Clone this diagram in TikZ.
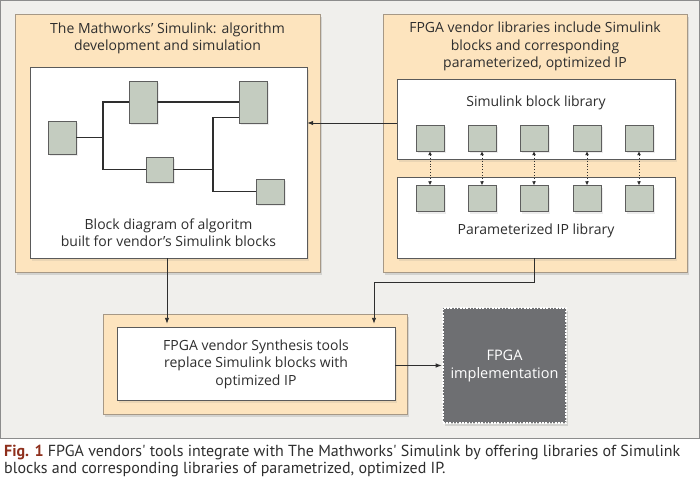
\documentclass[tikz,border=0pt]{standalone}
\usepackage{fontspec}
\setmainfont{Open Sans}
\newfontfamily\capfont{PT Sans}
\usepackage{xcolor}
\usetikzlibrary{positioning, shapes, arrows.meta, shadows}

\definecolor{panelgray}{HTML}{F0EFEC}
\definecolor{panelline}{HTML}{8C8C8C}
\definecolor{peach}{HTML}{FDE4BE}
\definecolor{peachline}{HTML}{A69886}
\definecolor{boxline}{HTML}{5A5A5A}
\definecolor{blkgreen}{HTML}{C4CCC0}
\definecolor{blkline}{HTML}{5E5E5E}
\definecolor{chipgray}{HTML}{6E6F72}
\definecolor{inkgray}{HTML}{2E2E2E}
\definecolor{figred}{HTML}{8E2F1C}

\begin{document}
\begin{tikzpicture}[
    x=1pt, y=-1pt,
    group/.style={rectangle, draw=peachline, fill=peach, inner sep=0pt,
        drop shadow={opacity=0.25, shadow xshift=2pt, shadow yshift=-3pt}},
    inbox/.style={rectangle, draw=boxline, fill=white, inner sep=0pt,
        drop shadow={opacity=0.15, shadow xshift=2pt, shadow yshift=-3pt}},
    blk/.style={rectangle, draw=blkline, fill=blkgreen, inner sep=0pt,
        drop shadow={opacity=0.15, shadow xshift=2pt, shadow yshift=-2pt}},
    libblk/.style={blk, minimum width=28pt, minimum height=26pt},
    label/.style={align=center, text=inkgray, font=\fontsize{14}{17.5}\selectfont},
    chip/.style={rectangle, fill=chipgray, draw=white, line width=2.6pt,
        dash pattern=on 1.6pt off 1.6pt, inner sep=0pt, text=white, align=center,
        font=\fontsize{14.5}{18}\selectfont,
        drop shadow={opacity=0.25, shadow xshift=2pt, shadow yshift=-3pt}},
    wire/.style={draw=inkgray, line width=1.4pt},
    link/.style={draw=inkgray, line width=0.9pt, -{Latex[length=6pt,width=4.5pt]}},
    pair/.style={draw=inkgray, line width=0.9pt, dotted,
        {Latex[length=4pt,width=4pt]}-{Latex[length=4pt,width=4pt]}}
]
\useasboundingbox (0,0) rectangle (700,484);

% Background panel
\draw[panelline, fill=panelgray, line width=1pt] (0.5,0.5) rectangle (699,438);

% Simulink group
\node[group, minimum width=305pt, minimum height=258pt] (simgrp) at (167.5,143) {};
\node[label] (simtitle) at (167.5,38.5) {The Mathworks' Simulink: algorithm\\ development and simulation};
\node[inbox, minimum width=277pt, minimum height=191pt] (simin) at (168.5,162.5) {};
\node[label] (simtext) at (168.5,232.5) {Block diagram of algoritm\\ built for vendor's Simulink blocks};

% Algorithm blocks
\node[blk, minimum width=28pt, minimum height=33pt] (b1) at (62,137.5) {};
\node[blk, minimum width=28pt, minimum height=42pt] (b2) at (143,102) {};
\node[blk, minimum width=28pt, minimum height=42pt] (b3) at (253,102) {};
\node[blk, minimum width=27pt, minimum height=25pt] (b4) at (159.5,169.5) {};
\node[blk, minimum width=28pt, minimum height=25pt] (b5) at (270,191.5) {};
\coordinate (j1) at (103,137.5);
\coordinate (j2) at (213,169.5);

\draw[wire] (b1.east) -- (j1);
\draw[wire] (b2.west) -| (j1) |- (b4.west);
\draw[wire] (b2.east) -- (b3.west);
\draw[wire] (b4.east) -- (j2);
\draw[wire] ([yshift=6pt]b3.south west) -| (j2) |- (b5.west);

% Vendor library group
\node[group, minimum width=304pt, minimum height=258pt] (vengrp) at (535,143) {};
\node[label] (ventitle) at (535,46.5) {FPGA vendor libraries include Simulink\\ blocks and corresponding\\ parameterized, optimized IP};
\node[inbox, minimum width=278pt, minimum height=80pt] (simlib) at (536,119) {};
\node[label] (simlibtext) at (536,103) {Simulink block library};
\node[inbox, minimum width=278pt, minimum height=81pt] (iplib) at (536,217.5) {};
\node[label] (iplibtext) at (536,231) {Parameterized IP library};

\node[libblk] (s1) at (430,138) {};
\node[libblk] (s2) at (482,138) {};
\node[libblk] (s3) at (534,138) {};
\node[libblk] (s4) at (587,138) {};
\node[libblk] (s5) at (639,138) {};
\node[libblk] (p1) at (430,198.5) {};
\node[libblk] (p2) at (482,198.5) {};
\node[libblk] (p3) at (534,198.5) {};
\node[libblk] (p4) at (587,198.5) {};
\node[libblk] (p5) at (639,198.5) {};

\draw[pair] (s1) -- (p1);
\draw[pair] (s2) -- (p2);
\draw[pair] (s3) -- (p3);
\draw[pair] (s4) -- (p4);
\draw[pair] (s5) -- (p5);

% Synthesis group
\node[group, minimum width=304pt, minimum height=100pt] (syngrp) at (255,364) {};
\node[inbox, minimum width=278pt, minimum height=73pt] (synin) at (256,363.5) {};
\node[label] (syntext) at (256,364) {FPGA vendor Synthesis tools\\ replace Simulink blocks with\\ optimized IP};

% FPGA implementation
\node[chip, minimum width=123pt, minimum height=115pt] (fpga) at (504.5,365.5) {FPGA\\ implementation};

% Connectors
\coordinate (bend) at (534,282);
\draw[link] ([yshift=-4pt]simlib.west) -- ([yshift=-4pt]simlib.west -| simin.east);
\draw[link] (simin.south -| 167,0) -- ([yshift=3pt]synin.north -| 167,0);
\draw[link] (iplib.south -| bend) -- (bend) -| ([yshift=3pt]synin.north -| 374,0);
\draw[link] (synin.east |- fpga.west) -- (fpga.west);

% Caption
\node[anchor=north west, align=left, inner sep=0pt, text=inkgray,
    font=\capfont\fontsize{16}{16.5}\selectfont] (cap) at (4,445)
    {{\color{figred}\bfseries Fig. 1} FPGA vendors' tools integrate with The Mathworks' Simulink by offering libraries of Simulink\\
    blocks and corresponding libraries of parametrized, optimized IP.};

\end{tikzpicture}
\end{document}
